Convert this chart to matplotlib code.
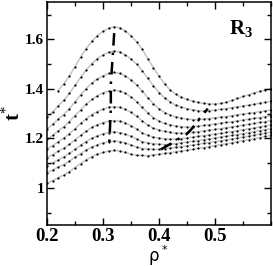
import matplotlib
matplotlib.use("Agg")
import matplotlib.pyplot as plt
from matplotlib.ticker import MultipleLocator

plt.rcParams['mathtext.fontset'] = 'custom'
plt.rcParams['mathtext.rm'] = 'Liberation Serif'
plt.rcParams['mathtext.bf'] = 'Liberation Serif:bold'

# density grid of the isotherms
rho = [0.20, 0.21, 0.22, 0.23, 0.24, 0.25, 0.26, 0.27, 0.28, 0.29, 0.30,
       0.31, 0.32, 0.33, 0.34, 0.35, 0.36, 0.37, 0.38, 0.39, 0.40,
       0.41, 0.42, 0.43, 0.44, 0.45, 0.46, 0.47, 0.48, 0.49, 0.50,
       0.51, 0.52, 0.53, 0.54, 0.55, 0.56, 0.57, 0.58, 0.59, 0.60]

# top curve starts at rho = 0.22
t1 = [1.393, 1.420, 1.452, 1.490, 1.528, 1.562, 1.592, 1.615, 1.632, 1.645, 1.651,
      1.646, 1.633, 1.614, 1.590, 1.560, 1.522, 1.485, 1.450, 1.420, 1.395,
      1.378, 1.366, 1.357, 1.350, 1.345, 1.341, 1.339, 1.339, 1.341, 1.346,
      1.353, 1.361, 1.369, 1.376, 1.383, 1.390, 1.396, 1.401]
t2 = [1.285, 1.306, 1.331, 1.353, 1.382, 1.414, 1.446, 1.476, 1.502, 1.522, 1.537,
      1.548, 1.553, 1.548, 1.537, 1.520, 1.500, 1.473, 1.442, 1.412, 1.385,
      1.363, 1.346, 1.334, 1.326, 1.320, 1.315, 1.312, 1.310, 1.311, 1.314,
      1.317, 1.320, 1.324, 1.327, 1.331, 1.334, 1.338, 1.342, 1.346, 1.350]
t3 = [1.238, 1.256, 1.277, 1.296, 1.320, 1.347, 1.375, 1.401, 1.423, 1.440, 1.452,
      1.462, 1.466, 1.462, 1.451, 1.436, 1.416, 1.391, 1.364, 1.340, 1.319,
      1.304, 1.294, 1.287, 1.282, 1.278, 1.276, 1.275, 1.278, 1.280, 1.283,
      1.286, 1.288, 1.291, 1.295, 1.298, 1.301, 1.304, 1.308, 1.311, 1.315]
t4 = [1.196, 1.212, 1.230, 1.247, 1.268, 1.292, 1.315, 1.338, 1.357, 1.372, 1.383,
      1.391, 1.395, 1.391, 1.382, 1.367, 1.348, 1.325, 1.302, 1.283, 1.269,
      1.260, 1.254, 1.250, 1.247, 1.245, 1.246, 1.249, 1.252, 1.255, 1.258,
      1.261, 1.264, 1.267, 1.270, 1.274, 1.277, 1.281, 1.284, 1.288, 1.292]
t5 = [1.157, 1.171, 1.186, 1.201, 1.219, 1.239, 1.260, 1.279, 1.296, 1.308, 1.318,
      1.325, 1.328, 1.325, 1.317, 1.305, 1.289, 1.271, 1.254, 1.241, 1.233,
      1.228, 1.224, 1.221, 1.220, 1.221, 1.224, 1.227, 1.230, 1.233, 1.236,
      1.239, 1.243, 1.246, 1.249, 1.253, 1.257, 1.260, 1.264, 1.268, 1.272]
t6 = [1.122, 1.134, 1.148, 1.160, 1.176, 1.194, 1.212, 1.229, 1.244, 1.255, 1.263,
      1.269, 1.272, 1.269, 1.262, 1.251, 1.237, 1.223, 1.212, 1.205, 1.201,
      1.198, 1.197, 1.196, 1.199, 1.202, 1.205, 1.208, 1.211, 1.214, 1.217,
      1.220, 1.224, 1.227, 1.231, 1.235, 1.238, 1.242, 1.246, 1.250, 1.254]
t7 = [1.090, 1.101, 1.113, 1.125, 1.139, 1.155, 1.172, 1.187, 1.200, 1.210, 1.218,
      1.223, 1.226, 1.223, 1.217, 1.208, 1.197, 1.187, 1.181, 1.178, 1.176,
      1.175, 1.176, 1.179, 1.182, 1.185, 1.188, 1.191, 1.195, 1.198, 1.201,
      1.205, 1.208, 1.212, 1.215, 1.219, 1.223, 1.227, 1.231, 1.235, 1.239]
t8 = [1.062, 1.072, 1.084, 1.094, 1.108, 1.123, 1.138, 1.153, 1.165, 1.174, 1.181,
      1.187, 1.189, 1.187, 1.181, 1.173, 1.165, 1.159, 1.157, 1.156, 1.155,
      1.158, 1.161, 1.164, 1.167, 1.170, 1.173, 1.176, 1.180, 1.183, 1.187,
      1.190, 1.194, 1.197, 1.201, 1.205, 1.209, 1.213, 1.217, 1.221, 1.225]
t9 = [1.018, 1.029, 1.041, 1.052, 1.066, 1.082, 1.098, 1.113, 1.126, 1.136, 1.143,
      1.149, 1.151, 1.149, 1.143, 1.136, 1.132, 1.131, 1.130, 1.133, 1.136,
      1.139, 1.142, 1.146, 1.149, 1.152, 1.156, 1.160, 1.163, 1.167, 1.171,
      1.175, 1.178, 1.182, 1.186, 1.191, 1.195, 1.199, 1.203, 1.208, 1.212]

# loci of maxima and minima
max_rho = [0.320, 0.317, 0.314, 0.314, 0.312, 0.311]
max_t = [1.625, 1.520, 1.420, 1.320, 1.220, 1.170]
min_rho = [0.403, 0.420, 0.435, 0.448, 0.458, 0.472, 0.487]
min_t = [1.155, 1.177, 1.198, 1.215, 1.237, 1.279, 1.320]

fig = plt.figure(figsize=(2.73, 2.66), dpi=100)
ax = fig.add_axes([0.172, 0.154, 0.821, 0.838])

curves = [(rho[2:], t1), (rho, t2), (rho, t3), (rho, t4), (rho, t5),
          (rho, t6), (rho, t7), (rho, t8), (rho, t9)]
for xs, ys in curves:
    ax.plot(xs, ys, color='#c4c4c4', lw=1.1, zorder=1)
    ax.plot(xs, ys, 'o', color='black', ms=1.6, mew=0, zorder=2)

ax.plot(max_rho, max_t, color='black', lw=1.8, dashes=(5.0, 2.8, 1.0, 2.8), zorder=3)
ax.plot(min_rho, min_t, color='black', lw=1.8, dashes=(5.0, 2.8, 1.0, 2.8), zorder=3)

ax.set_xlim(0.2, 0.6)
ax.set_ylim(0.85, 1.75)
ax.xaxis.set_minor_locator(MultipleLocator(0.05))
ax.yaxis.set_minor_locator(MultipleLocator(0.1))
ax.set_xticks([0.2, 0.3, 0.4, 0.5])
ax.set_xticklabels(['0.2', '0.3', '0.4', '0.5'])
ax.set_yticks([1.0, 1.2, 1.4, 1.6])
ax.set_yticklabels(['1', '1.2', '1.4', '1.6'])

ax.tick_params(which='both', direction='in', top=True, right=True, width=1.0)
ax.tick_params(which='major', length=5)
ax.tick_params(which='minor', length=3)
ax.tick_params(axis='x', pad=2)
ax.tick_params(axis='y', pad=2)
for lab in ax.get_xticklabels():
    lab.set_fontfamily('Liberation Serif')
    lab.set_fontweight('bold')
    lab.set_fontsize(13.5)
for lab in ax.get_yticklabels():
    lab.set_fontfamily('Liberation Serif')
    lab.set_fontweight('bold')
    lab.set_fontsize(11)
for sp in ax.spines.values():
    sp.set_linewidth(1.1)

# axis titles placed by hand, as in the original layout
fig.text(154 / 273, 1 - 256 / 266, 'ρ', fontsize=12, ha='center', va='center')
fig.text(164 / 273, 1 - 250 / 266, '*', fontsize=8, ha='center', va='center')
ax.set_ylabel(r'$\mathbf{t}^{*}$', fontsize=15, labelpad=1)
ax.text(0.525, 1.62, r'$\mathbf{R}_\mathbf{3}$', fontsize=15, va='baseline')

fig.savefig('out.png', dpi=100)
